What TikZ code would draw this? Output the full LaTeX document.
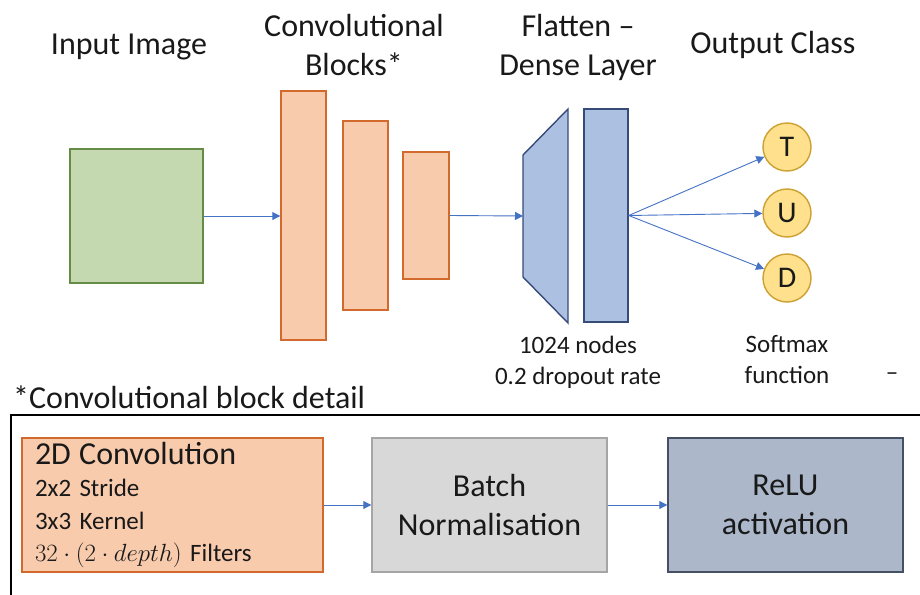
\documentclass[tikz,border=0pt]{standalone}
\usepackage{fontspec}
\setmainfont{Carlito}
\usepackage{tikz}
\usetikzlibrary{arrows.meta}

\definecolor{imggreen}{RGB}{197,217,176}
\definecolor{imggreenline}{RGB}{100,140,70}
\definecolor{convfill}{RGB}{248,203,173}
\definecolor{convline}{RGB}{210,105,45}
\definecolor{densefill}{RGB}{172,192,226}
\definecolor{denseline}{RGB}{55,75,120}
\definecolor{classfill}{RGB}{255,224,140}
\definecolor{classline}{RGB}{205,160,50}
\definecolor{bnfill}{RGB}{216,216,216}
\definecolor{bnline}{RGB}{165,165,165}
\definecolor{relufill}{RGB}{172,184,202}
\definecolor{reluline}{RGB}{70,80,100}
\definecolor{arrowblue}{RGB}{68,114,196}
\definecolor{textdark}{RGB}{25,25,25}

\tikzset{
  bigtext/.style={font=\fontsize{32}{39}\selectfont, text=textdark, inner sep=0pt},
  smalltext/.style={font=\fontsize{25}{31}\selectfont, text=textdark, inner sep=0pt},
  flow/.style={-{Triangle[length=8pt,width=8pt]}, draw=arrowblue, line width=0.9pt},
  convlayer/.style={draw=convline, fill=convfill, line width=1.4pt, inner sep=0pt},
  denselayer/.style={draw=denseline, fill=densefill, line width=1.4pt, inner sep=0pt},
  classnode/.style={circle, draw=classline, fill=classfill, line width=1.4pt,
    minimum size=48pt, inner sep=0pt, font=\fontsize{30}{30}\selectfont, text=textdark},
  detailbox/.style={minimum width=235pt, minimum height=134pt, inner sep=0pt,
    align=center, line width=1.4pt, text=textdark, font=\fontsize{32}{39}\selectfont}
}

\begin{document}
\begin{tikzpicture}[x=1pt,y=-1pt]
  \clip (0,0) rectangle (920,594);

  % Draw the input image
  \node[draw=imggreenline, fill=imggreen, line width=1.4pt, inner sep=0pt,
    minimum width=133pt, minimum height=134pt] (input) at (136.5,216) {};
  \node[bigtext, anchor=base] (inputlbl) at (129,55) {Input Image};

  % Draw the convolutional blocks
  \node[convlayer, minimum width=45pt, minimum height=249pt] (conv1) at (303.5,215.5) {};
  \node[convlayer, minimum width=45pt, minimum height=189pt] (conv2) at (365.5,215.5) {};
  \node[convlayer, minimum width=46pt, minimum height=127pt] (conv3) at (426,215.5) {};
  \node[bigtext, align=center] (convlbl) at (354,45) {Convolutional\\Blocks*};

  % Draw the flatten and dense layer
  \filldraw[fill=densefill, draw=denseline, line width=1.4pt]
    (523,155) -- (568,109) -- (568,323) -- (523,277) -- cycle;
  \coordinate (flat) at (523,216);
  \node[denselayer, minimum width=44pt, minimum height=213pt] (dense) at (606,215.5) {};
  \node[bigtext, align=center] (denselbl) at (578,47) {Flatten --\\Dense Layer};
  \node[smalltext, align=center] (densenote) at (578,362) {1024 nodes\\0.2 dropout rate};

  % Draw the output classes
  \node[classnode] (T) at (787,147) {T};
  \node[classnode] (U) at (787,213) {U};
  \node[classnode] (D) at (787,278) {D};
  \node[bigtext, anchor=base] (outlbl) at (773,54) {Output Class};
  \node[smalltext, align=center] (softlbl) at (787,359.5) {Softmax\\function};
  \node[smalltext] (dash) at (892,377) {--};

  % Connect the layers
  \draw[flow] (input.east) -- (conv1.west |- input.east);
  \draw[flow] (conv3.east) -- (flat);
  \foreach \cls in {T,U,D} {
    \draw[flow] (dense.east) -- (\cls);
  }

  % Draw the block detail
  \node[bigtext, anchor=base west] (detaillbl) at (13,408) {*Convolutional block detail};
  \draw[line width=2pt] (11,415) rectangle (924,600);
  \node[draw=convline, fill=convfill, line width=1.4pt, minimum width=301pt,
    minimum height=134pt, inner xsep=13pt, inner ysep=0pt, text width=275pt,
    align=left, text=textdark, font=\fontsize{25}{32.5}\selectfont] (conv) at (172.5,505)
    {{\fontsize{32}{32.5}\selectfont 2D Convolution}\\2x2 Stride\\3x3 Kernel\\
     $32\cdot(2\cdot depth)$ Filters};
  \node[detailbox, draw=bnline, fill=bnfill] (bn) at (489.5,505) {Batch\\Normalisation};
  \node[detailbox, draw=reluline, fill=relufill] (relu) at (785.5,505) {ReLU\\activation};
  \draw[flow] (conv) -- (bn);
  \draw[flow] (bn) -- (relu);
\end{tikzpicture}
\end{document}
